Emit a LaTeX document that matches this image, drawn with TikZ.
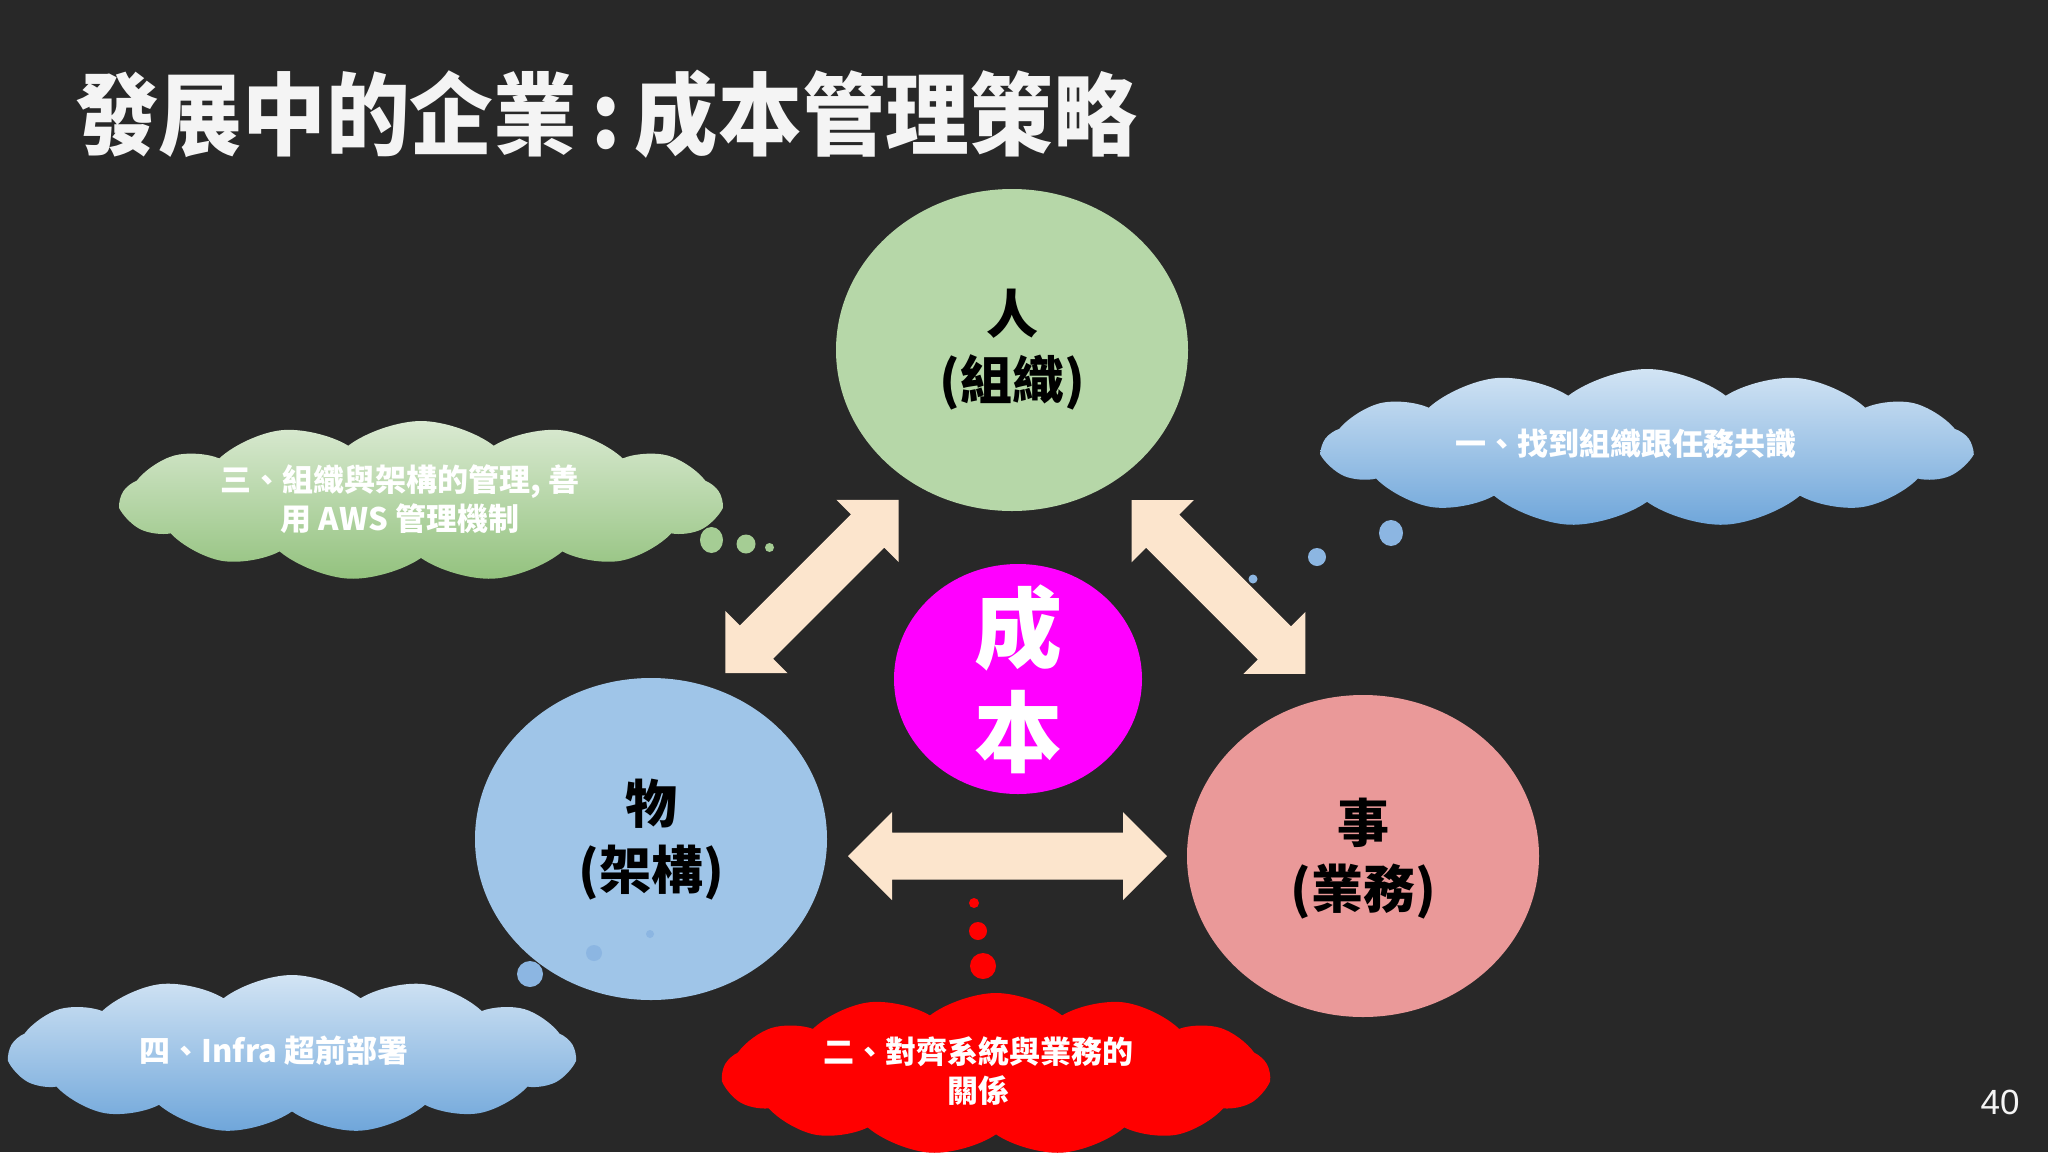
\documentclass[tikz,border=0pt]{standalone}
\usepackage{fontspec}
\newfontfamily\cjk{Noto Sans CJK TC}
\newfontfamily\numfont{Liberation Sans}
\usetikzlibrary{shapes.geometric,shapes.symbols}
\definecolor{bg}{HTML}{282828}
\definecolor{peach}{HTML}{FCE5CD}
\definecolor{cgreen}{HTML}{B6D7A8}
\definecolor{cblue}{HTML}{9FC5E8}
\definecolor{cpink}{HTML}{EA9999}
\definecolor{cmag}{HTML}{FF00FF}
\definecolor{gtop}{RGB}{218,234,210}
\definecolor{gbot}{RGB}{147,194,126}
\definecolor{btop}{RGB}{210,228,244}
\definecolor{bbot}{RGB}{111,166,218}
\definecolor{gdot}{RGB}{165,205,148}
\definecolor{bdot}{RGB}{140,182,226}
\definecolor{tw}{HTML}{F4F4F4}
\tikzset{
  bubble/.style={ellipse, inner sep=0pt, minimum width=352, minimum height=322, draw=none},
  bigtext/.style={font=\cjk\bfseries\fontsize{52}{66}\selectfont, align=center, text=black},
  cloudbox/.style={cloud, cloud puffs=13, cloud puff arc=75, cloud ignores aspect, inner sep=0pt, draw=none},
  cloudtext/.style={font=\cjk\bfseries\fontsize{31}{39}\selectfont, align=center, text=white},
  greencloud/.style={cloudbox, top color=gtop, bottom color=gbot},
  bluecloud/.style={cloudbox, top color=btop, bottom color=bbot},
  redcloud/.style={cloudbox, fill=red},
  dblarr/.pic={\fill[peach] (-#1/2,0) -- ++(44,-44) -- ++(0,20.5) -- (#1/2-44,-23.5) -- ++(0,-20.5) -- (#1/2,0) -- ++(-44,44) -- ++(0,-20.5) -- (-#1/2+44,23.5) -- ++(0,20.5) -- cycle;}
}
\begin{document}
\begin{tikzpicture}[x=1pt,y=-1pt]
\fill[bg] (0,0) rectangle (2048,1152);
\path[use as bounding box] (0,0) rectangle (2048,1152);

% title
\node[anchor=base west, inner sep=0pt, text=tw, xscale=0.93, font=\cjk\bfseries\fontsize{90}{100}\selectfont] (title) at (75,148) {發展中的企業\,:\,成本管理策略};

% circles
\node[bubble, fill=cgreen] (ren) at (1012,350) {};
\node[bubble, fill=cblue] (wu) at (651,839) {};
\node[bubble, fill=cpink] (shi) at (1363,856) {};
\node[ellipse, inner sep=0pt, minimum width=248, minimum height=230, fill=cmag] (cost) at (1018,679) {};

\node[bigtext] (rent) at (1012,350) {人\\(組織)};
\node[bigtext] (wut) at (651,840) {物\\(架構)};
\node[bigtext] (shit) at (1363,859) {事\\(業務)};
\node[font=\cjk\bfseries\fontsize{88}{104}\selectfont, align=center, text=white] (costt) at (1018,679) {成\\本};

% block arrows
\pic[rotate=45] at (812,586.5) {dblarr=245};
\pic[rotate=-45] at (1218.5,587) {dblarr=246};
\pic at (1007.5,856) {dblarr=319};

% clouds
\node[greencloud, minimum width=600, minimum height=160] (c3) at (421,501) {};
\node[cloudtext] (c3t) at (400,499) {三、組織與架構的管理, 善\\用 AWS 管理機制};
\fill[gdot] (711.5,540) ellipse (11.5 and 13);
\fill[gdot] (746,544) ellipse (9.5 and 9.5);
\fill[gdot] (769.5,547.5) ellipse (4.5 and 4.5);

\node[bluecloud, minimum width=648, minimum height=158] (c1) at (1647,448) {};
\node[cloudtext] (c1t) at (1626,444) {一、找到組織跟任務共識};
\fill[bdot] (1391,533) ellipse (12 and 13);
\fill[bdot] (1317,557) ellipse (9 and 9);
\fill[bdot] (1253,579) ellipse (4.5 and 4.5);

\node[bluecloud, minimum width=565, minimum height=158] (c4) at (292,1054) {};
\node[cloudtext] (c4t) at (274,1051) {四、Infra 超前部署};
\fill[bdot] (530,974) ellipse (13 and 13);
\fill[bdot] (594,953) ellipse (8 and 8);
\fill[bdot] (650,934) ellipse (4 and 4);

\node[redcloud, minimum width=546, minimum height=162] (c2) at (996,1074) {};
\node[cloudtext] (c2t) at (978,1071) {二、對齊系統與業務的\\關係};
\fill[red] (983,966) ellipse (13 and 13);
\fill[red] (978,931) ellipse (9 and 9);
\fill[red] (974,903) ellipse (5 and 5);

% page number
\node[font=\numfont\fontsize{35}{40}\selectfont, text=tw] (pg) at (2000,1102) {40};
\end{tikzpicture}
\end{document}
